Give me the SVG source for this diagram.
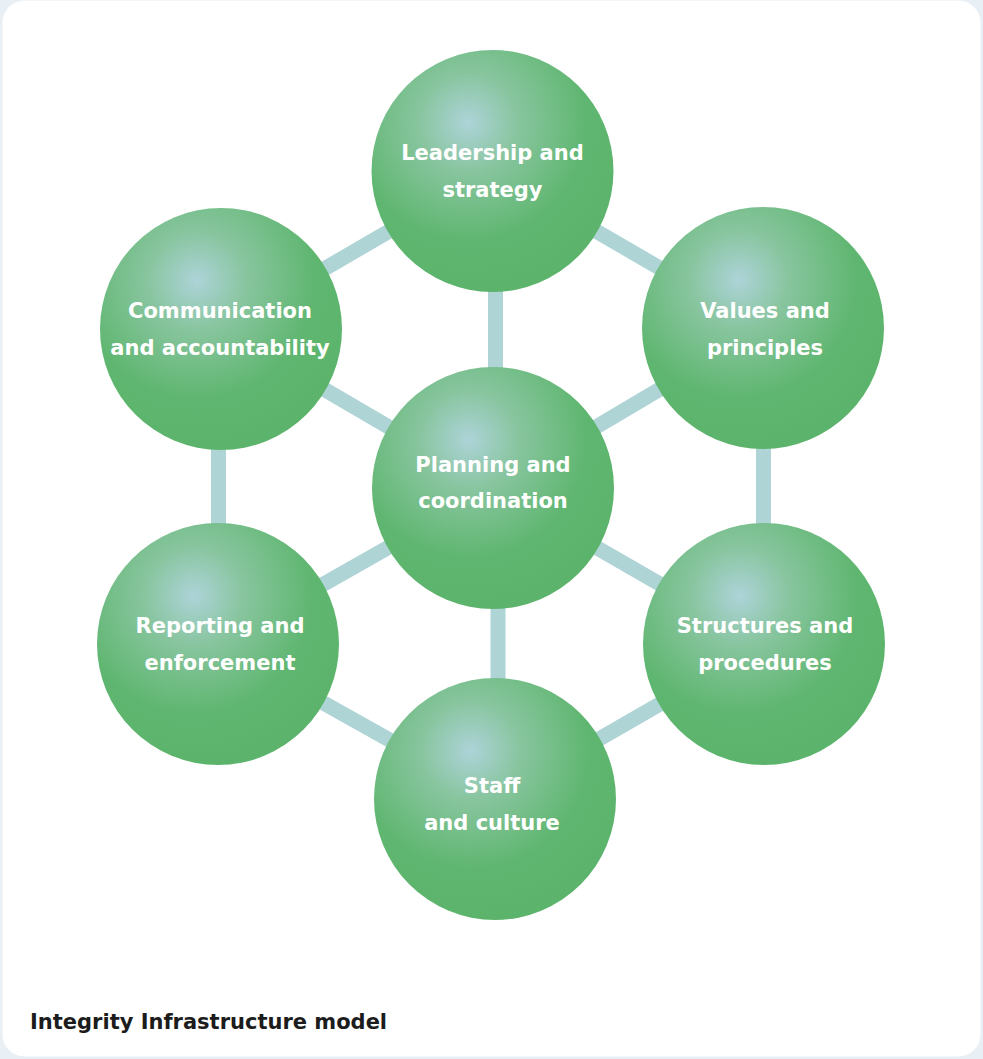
<svg xmlns="http://www.w3.org/2000/svg" width="983" height="1059" viewBox="0 0 983 1059">
  <defs>
    <radialGradient id="ball" cx="0.4" cy="0.3" r="0.68" fx="0.4" fy="0.3">
      <stop offset="0" stop-color="#add3d8"/>
      <stop offset="0.3" stop-color="#88c59f"/>
      <stop offset="0.72" stop-color="#5fb670"/>
      <stop offset="1" stop-color="#5cb46c"/>
    </radialGradient>
    <style>
      .ball { fill: url(#ball); }
      .lbl { fill: #ffffff; font-family: "DejaVu Sans", "Liberation Sans", sans-serif; font-weight: 700; font-size: 21px; text-anchor: middle; }
      .conn line { stroke: #aed4d5; stroke-width: 15; stroke-linecap: butt; }
      .title { fill: #1c1c1c; font-family: "DejaVu Sans", "Liberation Sans", sans-serif; font-weight: 700; font-size: 21px; }
    </style>
  </defs>
  <rect x="0" y="0" width="983" height="1059" fill="#e8eff5"/>
  <rect x="2.5" y="0.5" width="978" height="1056" rx="22" ry="22" fill="#ffffff"/>

  <g id="connectors" class="conn">
    <line x1="495.5" y1="200" x2="495.5" y2="460"/>
    <line x1="493" y1="488" x2="221" y2="329"/>
    <line x1="493" y1="488" x2="763" y2="328"/>
    <line x1="493" y1="488" x2="218" y2="644"/>
    <line x1="493" y1="488" x2="764" y2="644"/>
    <line x1="498" y1="520" x2="498" y2="770"/>
    <line x1="492.5" y1="171" x2="221" y2="329"/>
    <line x1="492.5" y1="171" x2="763" y2="328"/>
    <line x1="218.5" y1="329" x2="218.5" y2="644"/>
    <line x1="763.5" y1="328" x2="763.5" y2="644"/>
    <line x1="218" y1="644" x2="495" y2="799"/>
    <line x1="764" y1="644" x2="495" y2="799"/>
  </g>

  <g id="node-leadership">
    <circle class="ball" cx="492.5" cy="171" r="121"/>
    <text class="lbl" x="492.5" y="160">Leadership and</text>
    <text class="lbl" x="492.5" y="197">strategy</text>
  </g>
  <g id="node-communication">
    <circle class="ball" cx="221" cy="329" r="121"/>
    <text class="lbl" x="220" y="318">Communication</text>
    <text class="lbl" x="220" y="355">and accountability</text>
  </g>
  <g id="node-values">
    <circle class="ball" cx="763" cy="328" r="121"/>
    <text class="lbl" x="765" y="318">Values and</text>
    <text class="lbl" x="765" y="355">principles</text>
  </g>
  <g id="node-planning">
    <circle class="ball" cx="493" cy="488" r="121"/>
    <text class="lbl" x="493" y="472">Planning and</text>
    <text class="lbl" x="493" y="508">coordination</text>
  </g>
  <g id="node-reporting">
    <circle class="ball" cx="218" cy="644" r="121"/>
    <text class="lbl" x="220" y="633">Reporting and</text>
    <text class="lbl" x="220" y="670">enforcement</text>
  </g>
  <g id="node-structures">
    <circle class="ball" cx="764" cy="644" r="121"/>
    <text class="lbl" x="765" y="633">Structures and</text>
    <text class="lbl" x="765" y="670">procedures</text>
  </g>
  <g id="node-staff">
    <circle class="ball" cx="495" cy="799" r="121"/>
    <text class="lbl" x="492" y="793">Staff</text>
    <text class="lbl" x="492" y="830">and culture</text>
  </g>

  <text class="title" x="30" y="1029">Integrity Infrastructure model</text>
</svg>
